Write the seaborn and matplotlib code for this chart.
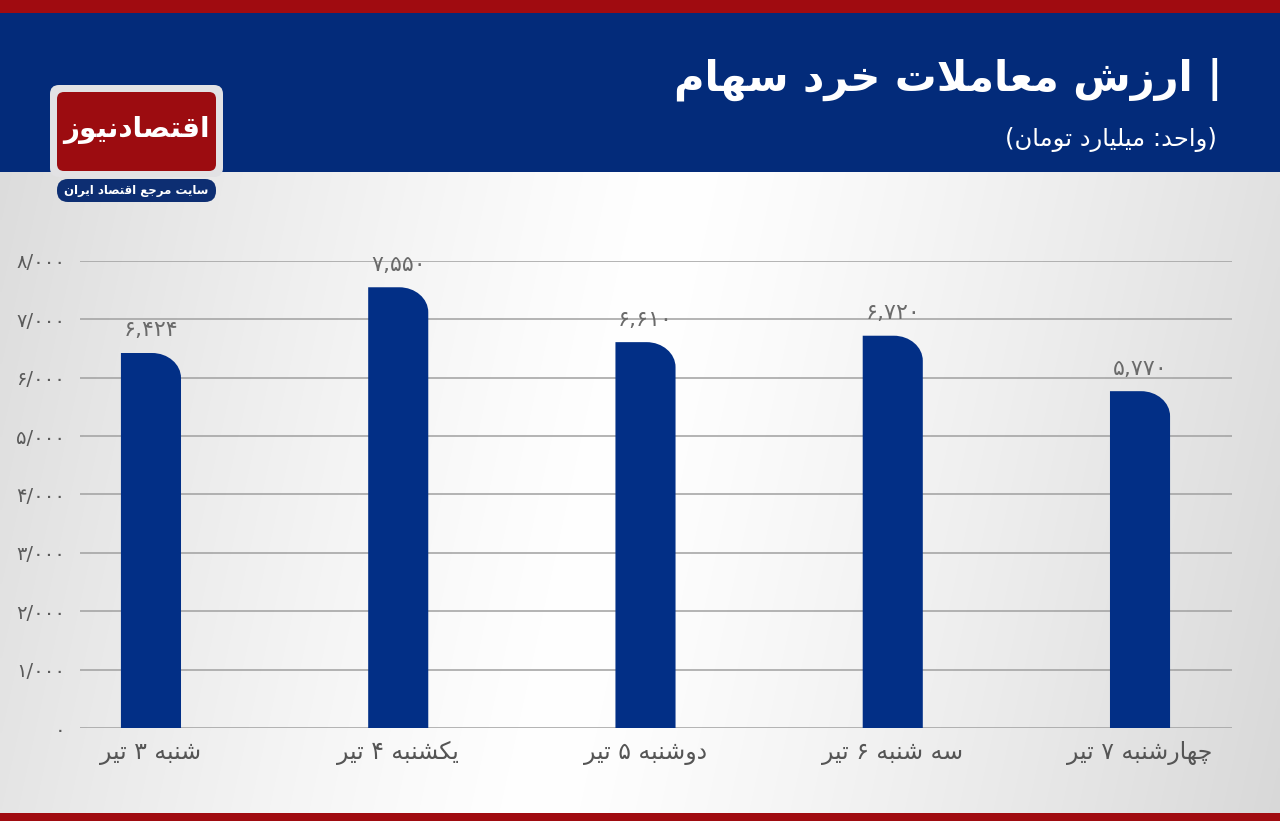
import numpy as np
import pandas as pd
import matplotlib
matplotlib.use("Agg")
import matplotlib.pyplot as plt
import seaborn as sns
from matplotlib.patches import FancyBboxPatch, Rectangle, PathPatch
from matplotlib.path import Path
from matplotlib import font_manager
from matplotlib.ft2font import FT2Font

# ---------------- data ----------------
categories = ["شنبه ۳ تیر", "یکشنبه ۴ تیر", "دوشنبه ۵ تیر", "سه شنبه ۶ تیر", "چهارشنبه ۷ تیر"]
values = [6424, 7550, 6610, 6720, 5770]
value_labels = ["۶,۴۲۴", "۷,۵۵۰", "۶,۶۱۰", "۶,۷۲۰", "۵,۷۷۰"]
y_ticks = [0, 1000, 2000, 3000, 4000, 5000, 6000, 7000, 8000]
y_tick_labels = ["۰", "۱/۰۰۰", "۲/۰۰۰", "۳/۰۰۰", "۴/۰۰۰", "۵/۰۰۰", "۶/۰۰۰", "۷/۰۰۰", "۸/۰۰۰"]
title = "| ارزش معاملات خرد سهام"
subtitle = "(واحد: میلیارد تومان)"
logo_main = "اقتصادنیوز"
logo_sub = "سایت مرجع اقتصاد ایران"

BAR = "#022F86"
NAVY = "#032B7A"
RED = "#A00B10"

plt.rcParams['font.family'] = ['DejaVu Sans']

# ---------------- minimal Persian shaping ----------------
DUAL = {
    'ب': (0xFE8F, 0xFE90, 0xFE91, 0xFE92), 'پ': (0xFB56, 0xFB57, 0xFB58, 0xFB59),
    'ت': (0xFE95, 0xFE96, 0xFE97, 0xFE98), 'ث': (0xFE99, 0xFE9A, 0xFE9B, 0xFE9C),
    'ج': (0xFE9D, 0xFE9E, 0xFE9F, 0xFEA0), 'چ': (0xFB7A, 0xFB7B, 0xFB7C, 0xFB7D),
    'ح': (0xFEA1, 0xFEA2, 0xFEA3, 0xFEA4), 'خ': (0xFEA5, 0xFEA6, 0xFEA7, 0xFEA8),
    'س': (0xFEB1, 0xFEB2, 0xFEB3, 0xFEB4), 'ش': (0xFEB5, 0xFEB6, 0xFEB7, 0xFEB8),
    'ص': (0xFEB9, 0xFEBA, 0xFEBB, 0xFEBC), 'ض': (0xFEBD, 0xFEBE, 0xFEBF, 0xFEC0),
    'ط': (0xFEC1, 0xFEC2, 0xFEC3, 0xFEC4), 'ظ': (0xFEC5, 0xFEC6, 0xFEC7, 0xFEC8),
    'ع': (0xFEC9, 0xFECA, 0xFECB, 0xFECC), 'غ': (0xFECD, 0xFECE, 0xFECF, 0xFED0),
    'ف': (0xFED1, 0xFED2, 0xFED3, 0xFED4), 'ق': (0xFED5, 0xFED6, 0xFED7, 0xFED8),
    'ک': (0xFB8E, 0xFB8F, 0xFB90, 0xFB91), 'گ': (0xFB92, 0xFB93, 0xFB94, 0xFB95),
    'ل': (0xFEDD, 0xFEDE, 0xFEDF, 0xFEE0), 'م': (0xFEE1, 0xFEE2, 0xFEE3, 0xFEE4),
    'ن': (0xFEE5, 0xFEE6, 0xFEE7, 0xFEE8), 'ه': (0xFEE9, 0xFEEA, 0xFEEB, 0xFEEC),
    'ی': (0xFBFC, 0xFBFD, 0xFBFE, 0xFBFF),
}
FALLBACK = {
    'ک': (0xFED9, 0xFEDA, 0xFEDB, 0xFEDC), 'ی': (0xFEEF, 0xFEF0, 0xFEF3, 0xFEF4),
    'چ': (0xFE9D, 0xFE9E, 0xFE9F, 0xFEA0), 'پ': (0xFE8F, 0xFE90, 0xFE91, 0xFE92),
    'گ': (0xFED9, 0xFEDA, 0xFEDB, 0xFEDC),
}
RIGHT = {
    'ا': (0xFE8D, 0xFE8E), 'آ': (0xFE81, 0xFE82), 'د': (0xFEA9, 0xFEAA),
    'ذ': (0xFEAB, 0xFEAC), 'ر': (0xFEAD, 0xFEAE), 'ز': (0xFEAF, 0xFEB0),
    'ژ': (0xFB8A, 0xFB8B), 'و': (0xFEED, 0xFEEE),
}

try:
    _cov = None
    for w in ('normal', 'bold'):
        p = font_manager.findfont(font_manager.FontProperties(family='DejaVu Sans', weight=w))
        cm = set(FT2Font(p).get_charmap().keys())
        _cov = cm if _cov is None else (_cov & cm)
    for k, fb in FALLBACK.items():
        if not all(cp in _cov for cp in DUAL[k]):
            DUAL[k] = fb
except Exception:
    pass

DIGITS = set('0123456789۰۱۲۳۴۵۶۷۸۹')


def fa(text):
    out = []
    n = len(text)
    i = 0
    while i < n:
        c = text[i]
        prev = text[i - 1] if i > 0 else ''
        pj = prev in DUAL
        if c == 'ل' and i + 1 < n and text[i + 1] in ('ا', 'آ'):
            lig = {'ا': (0xFEFB, 0xFEFC), 'آ': (0xFEF5, 0xFEF6)}[text[i + 1]]
            out.append(chr(lig[1] if pj else lig[0]))
            i += 2
            continue
        nxt = text[i + 1] if i + 1 < n else ''
        if c in DUAL:
            nj = (nxt in DUAL) or (nxt in RIGHT)
            f = DUAL[c]
            idx = {(False, False): 0, (True, False): 1, (False, True): 2, (True, True): 3}[(pj, nj)]
            out.append(chr(f[idx]))
        elif c in RIGHT:
            out.append(chr(RIGHT[c][1] if pj else RIGHT[c][0]))
        else:
            out.append(c)
        i += 1
    vis = out[::-1]
    mirror = {'(': ')', ')': '('}
    vis = [mirror.get(ch, ch) for ch in vis]
    res = []
    j = 0
    while j < len(vis):
        if vis[j] in DIGITS:
            k = j
            while k < len(vis) and vis[k] in DIGITS:
                k += 1
            res.extend(vis[j:k][::-1])
            j = k
        else:
            res.append(vis[j])
            j += 1
    return ''.join(res)


# ---------------- figure ----------------
W, H = 1280, 821
fig = plt.figure(figsize=(W / 100, H / 100), dpi=100)

bg = fig.add_axes([0, 0, 1, 1], zorder=0)
bg.set_xlim(0, W)
bg.set_ylim(H, 0)
bg.axis('off')

# light gray gradient background
gx = np.linspace(0, 1, 320)
gy = np.linspace(0, 1, 200)
X, Y = np.meshgrid(gx, gy)
centre = 0.56 - 0.14 * Y
d = np.abs(X - centre)
val = 1 - 0.30 * d ** 1.25
img = np.dstack([val, val, val])
bg.imshow(img, extent=(0, W, H, 0), aspect='auto', interpolation='bilinear', zorder=0)

# header bands
bg.add_patch(Rectangle((0, 0), W, 13, fc=RED, ec='none', zorder=1))
bg.add_patch(Rectangle((0, 13), W, 159, fc=NAVY, ec='none', zorder=1))
bg.add_patch(Rectangle((0, 813), W, 8, fc=RED, ec='none', zorder=1))

# title texts
bg.text(1222, 79, fa(title), ha='right', va='center', color='white',
        fontsize=30, fontweight='bold', zorder=3)
bg.text(1217, 139, fa(subtitle), ha='right', va='center', color='white',
        fontsize=17.5, zorder=3)

# logo
bg.add_patch(FancyBboxPatch((50, 85), 173, 92, boxstyle='round,pad=0,rounding_size=9',
                            fc='#e2e2e4', ec='none', zorder=2))
bg.add_patch(FancyBboxPatch((57, 92), 159, 79, boxstyle='round,pad=0,rounding_size=7',
                            fc='#9C0C10', ec='none', zorder=3))
bg.text(136.5, 130, fa(logo_main), ha='center', va='center', color='white',
        fontsize=20, fontweight='bold', zorder=4)
bg.add_patch(FancyBboxPatch((57, 179), 159, 23, boxstyle='round,pad=0,rounding_size=11',
                            fc='#0D2E72', ec='none', zorder=3))
bg.text(136.5, 190.5, fa(logo_sub), ha='center', va='center', color='white',
        fontsize=8.5, fontweight='bold', zorder=4)

# ---------------- main chart ----------------
ax = fig.add_axes([80 / W, 93 / H, 1152 / W, 467 / H], zorder=5)
ax.patch.set_alpha(0)

df = pd.DataFrame({'day': [fa(c) for c in categories], 'value': values})
sns.barplot(data=df, x='day', y='value', color=BAR, saturation=1, width=0.243, ax=ax, zorder=3)

ax.set_xlim(-0.287, 4.372)
ax.set_ylim(0, 8000)
ax.set_yticks(y_ticks)
ax.set_yticklabels(y_tick_labels)
ax.set_xlabel('')
ax.set_ylabel('')
for s in ax.spines.values():
    s.set_visible(False)
ax.set_axisbelow(True)
ax.yaxis.grid(True, color='#a0a0a0', lw=1.1)
ax.xaxis.grid(False)
ax.tick_params(axis='y', length=0, pad=10.5, labelsize=14, labelcolor='#5a5a5a')
ax.tick_params(axis='x', length=0, pad=9, labelsize=17, labelcolor='#555555')

ax.bar_label(ax.containers[0], labels=value_labels, padding=9, fontsize=16, color='#6a6a6a')

# round the top-right corner of every bar
fig.canvas.draw()
xr = ax.get_xlim()
px_x = ax.bbox.width / (xr[1] - xr[0])
px_y = ax.bbox.height / 8000.0
rx = 29 / px_x
ry = 25 / px_y
k = 0.5523
for rect in list(ax.patches):
    x0, y0 = rect.get_x(), rect.get_y()
    w, h = rect.get_width(), rect.get_height()
    top, right = y0 + h, x0 + w
    cx, cy = right - rx, top - ry
    verts = [(x0, y0), (x0, top), (cx, top),
             (cx + k * rx, top), (right, cy + k * ry), (right, cy),
             (right, y0), (x0, y0)]
    codes = [Path.MOVETO, Path.LINETO, Path.LINETO,
             Path.CURVE4, Path.CURVE4, Path.CURVE4,
             Path.LINETO, Path.CLOSEPOLY]
    ax.add_patch(PathPatch(Path(verts, codes), fc=rect.get_facecolor(), ec='none', zorder=3))
    rect.set_visible(False)

fig.savefig('out.png', dpi=100)
